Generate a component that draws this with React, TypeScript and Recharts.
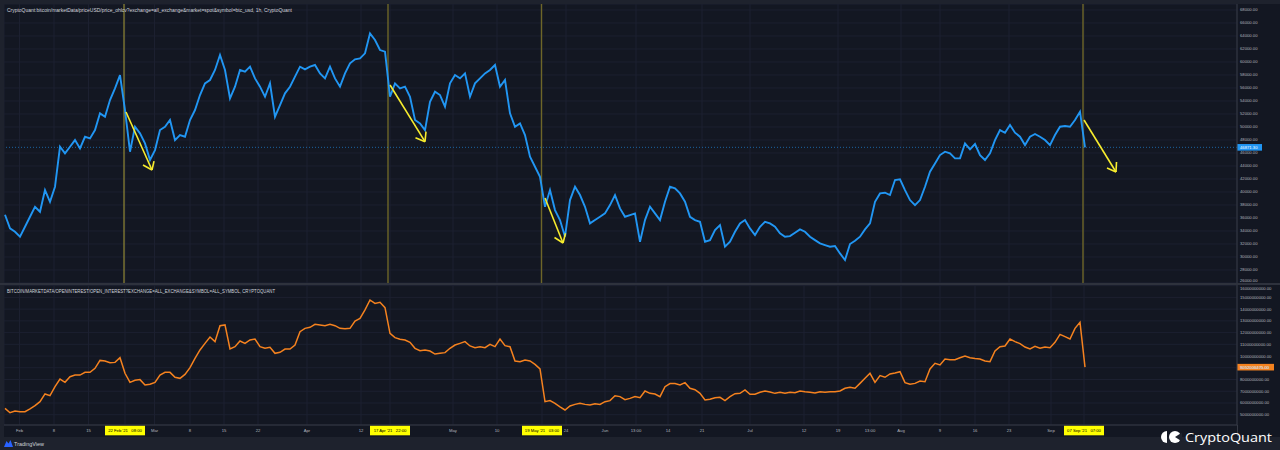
import React from 'react'
import { LineChart, Line, XAxis, YAxis, CartesianGrid, ReferenceLine } from 'recharts'

// BTC price (USD), one reading per bar
const price = [
  36500, 34400, 33890, 33120, 34650, 36190, 37730, 36960, 40300, 38500,
  40810, 46970, 45940, 46970, 47990, 46710, 48500, 48250, 49530, 52100,
  51580, 54150, 55940, 57990, 52610, 46200, 50040, 49020, 47480, 44920,
  46450, 49530, 50040, 51070, 47990, 48760, 48500, 51070, 52610, 54920,
  56710, 57230, 58770, 61070, 58770, 54410, 56200, 58770, 58510, 59280,
  57480, 56200, 54660, 56710, 51580, 53380, 55180, 56200, 57740, 59280,
  58870, 59280, 59540, 58250, 57480, 59280, 57480, 56200, 58250, 59790,
  60410, 60560, 61330, 64410, 63380, 61840, 61590, 54660, 56710, 55940,
  56200, 54660, 51070, 50560, 49530, 53890, 55430, 54920, 53120, 56710,
  57990, 57480, 58250, 54660, 56710, 57480, 58250, 58770, 59540, 56200,
  57230, 52100, 50040, 50560, 48760, 45440, 43890, 42350, 37730, 40300,
  37220, 35680, 33120, 38760, 40810, 39530, 37730, 35170, 35680, 36190,
  36710, 37990, 39530, 37480, 36190, 36450, 36710, 32350, 35680, 37730,
  36710, 35680, 38500, 40810, 40550, 39780, 38500, 36190, 35680, 35420,
  32350, 32600, 34140, 34910, 31580, 32350, 33890, 35170, 35680, 34400,
  33370, 34650, 35420, 35170, 34650, 33630, 33120, 33220, 33730, 34240,
  33890, 33120, 32600, 32090, 31840, 31580, 31680, 30550, 29530, 31990,
  32500, 33120, 34240, 35170, 38500, 39780, 39890, 39530, 41840, 41940,
  40300, 38760, 37990, 38760, 40810, 43120, 44400, 45680, 46200, 45940,
  45170, 45170, 47480, 46560, 47380, 45680, 44920, 45940, 47990, 49530,
  49120, 50300, 49120, 48500, 47220, 48500, 48920, 48500, 47990, 47220,
  48760, 50040, 50150, 50040, 51070, 52350, 46871.3,
]

// open interest, billions of USD, same bars
const openInterest = [
  5.54, 5.17, 5.32, 5.26, 5.26, 5.49, 5.77, 6.11, 6.77, 6.62,
  7.39, 8.04, 7.76, 8.24, 8.38, 8.38, 8.61, 8.61, 8.95, 9.63,
  9.58, 9.43, 9.46, 9.86, 8.53, 7.76, 7.93, 7.99, 7.53, 7.59,
  7.76, 8.38, 8.61, 8.61, 8.19, 8.1, 8.44, 9.01, 9.81, 10.52,
  11.08, 11.62, 11.23, 12.59, 12.65, 10.6, 10.8, 11.28, 11.08, 11.37,
  11.45, 10.8, 10.66, 10.74, 10.23, 10.32, 10.6, 10.6, 10.94, 12.08,
  12.36, 12.45, 12.7, 12.65, 12.59, 12.7, 12.59, 12.36, 12.33, 12.36,
  12.99, 13.21, 13.93, 14.78, 14.49, 14.58, 14.12, 11.94, 11.57, 11.43,
  11.37, 11.17, 10.66, 10.46, 10.52, 10.43, 10.17, 10.23, 10.29, 10.66,
  10.94, 11.08, 11.23, 10.86, 10.71, 10.8, 10.71, 11.0, 10.8, 11.45,
  10.89, 10.8, 9.58, 9.52, 9.66, 9.58, 9.29, 8.9, 6.11, 6.2,
  5.97, 5.66, 5.4, 5.74, 5.88, 5.97, 5.88, 5.83, 5.94, 5.88,
  6.11, 6.2, 6.62, 6.54, 6.28, 6.39, 6.54, 6.45, 7.02, 6.82,
  6.76, 6.54, 7.39, 7.65, 7.65, 7.53, 7.73, 7.25, 7.13, 6.82,
  6.25, 6.31, 6.45, 6.48, 6.2, 6.54, 6.79, 6.82, 7.11, 6.74,
  6.74, 6.91, 7.02, 6.94, 6.82, 6.91, 6.82, 6.91, 6.88, 7.02,
  6.96, 6.91, 6.85, 6.96, 6.91, 6.96, 6.96, 7.02, 7.25, 7.33,
  7.25, 7.67, 8.1, 8.53, 7.76, 8.33, 8.19, 8.47, 8.56, 8.67,
  7.73, 7.59, 7.67, 7.87, 7.81, 8.9, 9.38, 9.24, 9.75, 9.69,
  9.69, 9.86, 10.0, 9.86, 9.8, 9.75, 9.58, 9.52, 10.43, 10.8,
  10.86, 11.45, 11.23, 11.06, 10.77, 10.6, 10.83, 10.66, 10.77, 10.71,
  11.17, 11.85, 11.65, 11.45, 12.36, 12.87, 9.052006475,
]

const lastPrice = 46871.3
const lastOpenInterest = 9.052006475

// time axis labels, placed at bar positions
const tickBars = [
  2.9, 9.8, 16.7, 24, 29.9, 37, 43.8, 50.6, 60.4, 71.2, 77, 89.6, 98.4, 107.4, 112.2,
  120, 126.2, 132.6, 139.4, 149, 159.8, 166.6, 173, 179.2, 187, 194, 200.8, 209.2, 215.8,
]
const tickLabels = [
  'Feb', '8', '15', "22 Feb '21   08:00", 'Mar', '8', '15', '22', 'Apr', '12', "17 Apr '21   22:00",
  'May', '10', "19 May '21   03:00", '24', 'Jun', '13:00', '14', '21', 'Jul', '12', '19', '13:00',
  'Aug', '9', '16', '23', 'Sep', "07 Sep '21   07:00",
]
const markedLabels = ["22 Feb '21   08:00", "17 Apr '21   22:00", "19 May '21   03:00", "07 Sep '21   07:00"]

const priceTicks = [
  26000, 28000, 30000, 32000, 34000, 36000, 38000, 40000, 42000, 44000, 46000,
  48000, 50000, 52000, 54000, 56000, 58000, 60000, 62000, 64000, 66000, 68000,
]
const oiTicks = [5, 6, 7, 8, 9, 10, 11, 12, 13, 14, 15, 16]

// vertical markers and the hand-drawn arrows (bar, price)
const markerBars = [23.8, 76.6, 107.3, 215.6]
const arrowStart = [[24.2, 52310], [77, 56460], [108, 39080], [215.8, 51080]]
const arrowTip = [[29.4, 43380], [84, 47740], [111.6, 32150], [222.2, 43080]]
const arrowWingA = [[27.6, 44150], [82.1, 48350], [109.9, 33000], [220.4, 43690]]
const arrowWingB = [[29.8, 44740], [84.2, 49280], [112.1, 33650], [222.3, 44620]]

const data = price.map((p, i) => ({ bar: i, price: p, oi: openInterest[i] }))

const BG = '#131722'
const FRAME = '#1e222d'
const GRID = '#1c2030'
const AXIS = '#363a45'
const TEXT = '#b2b5be'
const BLUE = '#2196f3'
const ORANGE = '#f5821f'
const FONT = '"Liberation Sans", Arial, sans-serif'

// the lowest/highest labels sit on the pane border, nudge them inside
const PriceTick = ({ x, y, payload }: any) => (
  <text x={x} y={y} dy={payload.value === 26000 ? -0.8 : 1.5} fontSize={4.2} fill={TEXT} fontFamily={FONT}>
    {payload.value.toFixed(2)}
  </text>
)

const OiTick = ({ x, y, payload }: any) => (
  <text x={x} y={y} dy={payload.value === 16 ? 4 : 1.5} fontSize={4.2} fill={TEXT} fontFamily={FONT}>
    {(payload.value * 1e9).toFixed(2)}
  </text>
)

const TimeTick = ({ x, y, payload }: any) => {
  const label = tickLabels[tickBars.indexOf(payload.value)]
  if (markedLabels.includes(label)) {
    return (
      <g>
        <rect x={x - 20} y={y + 0.8} width={40} height={9.5} fill="#ffff00" />
        <text x={x} y={y + 7} textAnchor="middle" fontSize={4.2} fill="#000" fontFamily={FONT} xmlSpace="preserve">
          {label}
        </text>
      </g>
    )
  }
  return (
    <text x={x} y={y + 7} textAnchor="middle" fontSize={4.2} fill={TEXT} fontFamily={FONT}>
      {label}
    </text>
  )
}

const valueTag = (text: string, fill: string, w: number) => (props: any) => {
  const { x, y, width } = props.viewBox
  const left = x + width
  return (
    <g>
      <rect x={left} y={y - 3.3} width={w} height={6.6} fill={fill} />
      <text x={left + 3} y={y + 1.5} fontSize={4.2} fill="#fff" fontFamily={FONT}>
        {text}
      </text>
    </g>
  )
}

const seg = (a: number[], b: number[]) => [
  { x: a[0], y: a[1] },
  { x: b[0], y: b[1] },
]

const PriceChart = () => (
  <LineChart width={1276} height={279} data={data} margin={{ top: 0, right: 0, bottom: 0, left: 0 }}>
    <CartesianGrid stroke={GRID} strokeWidth={1} />
    <XAxis dataKey="bar" type="number" domain={[-0.2, 246.4]} ticks={tickBars} hide allowDataOverflow />
    <YAxis
      orientation="right"
      width={43}
      domain={[26000, 68923]}
      ticks={priceTicks}
      interval={0}
      tick={<PriceTick />}
      tickLine={false}
      tickSize={0}
      tickMargin={3}
      axisLine={{ stroke: AXIS }}
      allowDataOverflow
    />
    {markerBars.map((b, i) => (
      <ReferenceLine
        key={'m' + i}
        x={b}
        stroke={i === 0 ? '#a99d36' : '#6e6628'}
        strokeWidth={i === 0 ? 1 : 1.4}
      />
    ))}
    <ReferenceLine
      y={lastPrice}
      stroke={BLUE}
      strokeOpacity={0.6}
      strokeDasharray="1 2"
      label={valueTag(lastPrice.toFixed(2), BLUE, 25)}
    />
    <Line type="linear" dataKey="price" stroke={BLUE} strokeWidth={1.9} dot={false} isAnimationActive={false} />
    {arrowStart.map((s, i) => (
      <React.Fragment key={'a' + i}>
        <ReferenceLine segment={seg(s, arrowTip[i])} stroke="#f7ec2e" strokeWidth={1.6} ifOverflow="visible" />
        <ReferenceLine segment={seg(arrowWingA[i], arrowTip[i])} stroke="#f7ec2e" strokeWidth={1.6} ifOverflow="visible" />
        <ReferenceLine segment={seg(arrowWingB[i], arrowTip[i])} stroke="#f7ec2e" strokeWidth={1.6} ifOverflow="visible" />
      </React.Fragment>
    ))}
  </LineChart>
)

const OpenInterestChart = () => (
  <LineChart width={1276} height={151} data={data} margin={{ top: 0, right: 0, bottom: 0, left: 0 }}>
    <CartesianGrid stroke={GRID} strokeWidth={1} />
    <XAxis
      dataKey="bar"
      type="number"
      domain={[-0.2, 246.4]}
      ticks={tickBars}
      interval={0}
      height={11}
      tick={<TimeTick />}
      tickLine={false}
      tickSize={0}
      tickMargin={0}
      axisLine={{ stroke: AXIS }}
      allowDataOverflow
    />
    <YAxis
      orientation="right"
      width={43}
      domain={[4.122, 16.057]}
      ticks={oiTicks}
      interval={0}
      tick={<OiTick />}
      tickLine={false}
      tickSize={0}
      tickMargin={3}
      axisLine={{ stroke: AXIS }}
      allowDataOverflow
    />
    <Line type="linear" dataKey="oi" stroke={ORANGE} strokeWidth={1.5} dot={false} isAnimationActive={false} />
    <ReferenceLine
      y={lastOpenInterest}
      strokeOpacity={0}
      label={valueTag((lastOpenInterest * 1e9).toFixed(2), ORANGE, 37)}
    />
  </LineChart>
)

const App = () => (
  <div style={{ position: 'relative', width: 1280, height: 450, background: FRAME, overflow: 'hidden' }}>
    <style>{'body{margin:0;}'}</style>
    <div style={{ position: 'absolute', left: 4, top: 4, width: 1276, height: 433, background: BG }} />
    <div style={{ position: 'absolute', left: 4, top: 4 }}>
      <PriceChart />
    </div>
    <div style={{ position: 'absolute', left: 0, top: 283, width: 1280, height: 1.5, background: '#2e323d' }} />
    <div style={{ position: 'absolute', left: 4, top: 285 }}>
      <OpenInterestChart />
    </div>
    <div style={{ position: 'absolute', left: 1236.5, top: 425, width: 1, height: 11, background: AXIS }} />
    <svg width={1280} height={450} style={{ position: 'absolute', left: 0, top: 0, pointerEvents: 'none' }}>
      <text x={7} y={11.5} fontSize={4.8} fill="#d1d4dc" fontFamily={FONT} textLength={285} lengthAdjust="spacingAndGlyphs">
        CryptoQuant:bitcoin/marketData/priceUSD/price_ohlcv?exchange=all_exchange&amp;market=spot&amp;symbol=btc_usd, 1h, CryptoQuant
      </text>
      <text x={7} y={292.5} fontSize={4.8} fill="#d1d4dc" fontFamily={FONT} textLength={268} lengthAdjust="spacingAndGlyphs">
        BITCOIN/MARKETDATA/OPENINTEREST/OPEN_INTEREST?EXCHANGE=ALL_EXCHANGE&amp;SYMBOL=ALL_SYMBOL, CRYPTOQUANT
      </text>
      {/* TradingView mark */}
      <path d="M4 447 L6.5 441 L8.5 443.5 L10.5 440 L13 447 Z" fill="#2962ff" />
      <text x={14} y={445.5} fontSize={5.8} fill="#d1d4dc" fontFamily={FONT} textLength={30} lengthAdjust="spacingAndGlyphs">
        TradingView
      </text>
      {/* CryptoQuant mark */}
      <path d="M1167 431 A6 6 0 0 0 1167 443 Z" fill="#fff" />
      <circle cx={1175} cy={437} r={6} fill="#fff" />
      <path d="M1175 437 L1182 432.5 L1182 441.5 Z" fill={FRAME} />
      <text x={1185} y={441.5} fontSize={13.5} fill="#fff" fontFamily='"Open Sans", "Noto Sans", sans-serif' textLength={87} lengthAdjust="spacingAndGlyphs">
        CryptoQuant
      </text>
    </svg>
  </div>
)

export default App
